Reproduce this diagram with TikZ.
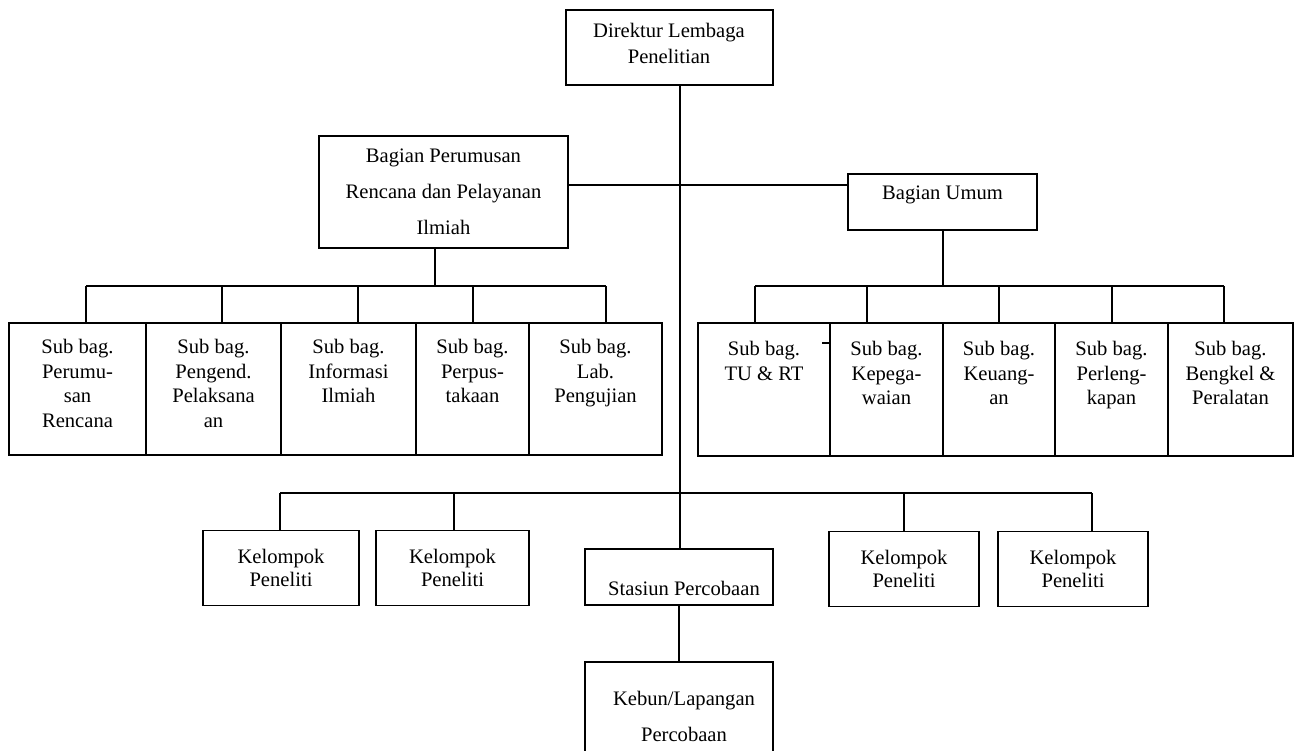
\documentclass[tikz,border=0pt]{standalone}
\usepackage{fontspec}
\setmainfont{Liberation Serif}
\begin{document}
\begin{tikzpicture}[x=1pt,y=-1pt,
  box/.style={draw, line width=1.6pt, rectangle, inner sep=0pt},
  wire/.style={line width=1.6pt},
  txt/.style={align=center, inner sep=0pt, font=\fontsize{20.6}{24.7}\selectfont},
  wide/.style={font=\fontsize{20.6}{36}\selectfont},
]
\useasboundingbox (0,0) rectangle (1295,751);
\fill[white] (0,0) rectangle (1295,751);
\clip (0,0) rectangle (1295,751);

% --- head of the institute
\node[box, minimum width=207pt, minimum height=75pt] (top) at (669.5,47.5) {};
\node[txt, anchor=north, font=\fontsize{20.6}{26}\selectfont] (topT) at (669,23) {Direktur Lembaga\\Penelitian};

% --- the two divisions
\node[box, minimum width=249pt, minimum height=112pt] (bp) at (443.5,192) {};
\node[txt, wide, anchor=north] (bpT) at (443.5,149) {Bagian Perumusan\\Rencana dan Pelayanan\\Ilmiah};

\node[box, minimum width=189pt, minimum height=56pt] (bu) at (942.5,202) {};
\node[txt, anchor=north] (buT) at (942.5,186) {Bagian Umum};

% --- sub-sections of Bagian Perumusan
\node[box, minimum width=137pt, minimum height=132pt] (s1) at (77.5,389) {};
\node[box, minimum width=135pt, minimum height=132pt] (s2) at (213.5,389) {};
\node[box, minimum width=135pt, minimum height=132pt] (s3) at (348.5,389) {};
\node[box, minimum width=113pt, minimum height=132pt] (s4) at (472.5,389) {};
\node[box, minimum width=133pt, minimum height=132pt] (s5) at (595.5,389) {};
\node[txt, anchor=north] (s1T) at (77.5,339) {Sub bag.\\Perumu-\\san\\Rencana};
\node[txt, anchor=north] (s2T) at (213.5,339) {Sub bag.\\Pengend.\\Pelaksana\\an};
\node[txt, anchor=north] (s3T) at (348.5,339) {Sub bag.\\Informasi\\Ilmiah};
\node[txt, anchor=north] (s4T) at (472.5,339) {Sub bag.\\Perpus-\\takaan};
\node[txt, anchor=north] (s5T) at (595.5,339) {Sub bag.\\Lab.\\Pengujian};

% --- sub-sections of Bagian Umum
\node[box, minimum width=132pt, minimum height=133pt] (r1) at (764,389.5) {};
\node[box, minimum width=113pt, minimum height=133pt] (r2) at (886.5,389.5) {};
\node[box, minimum width=112pt, minimum height=133pt] (r3) at (999,389.5) {};
\node[box, minimum width=113pt, minimum height=133pt] (r4) at (1111.5,389.5) {};
\node[box, minimum width=125pt, minimum height=133pt] (r5) at (1230.5,389.5) {};
\node[txt, anchor=north] (r1T) at (764,341) {Sub bag.\\TU \& RT};
\node[txt, anchor=north] (r2T) at (886.5,341) {Sub bag.\\Kepega-\\waian};
\node[txt, anchor=north] (r3T) at (999,341) {Sub bag.\\Keuang-\\an};
\node[txt, anchor=north] (r4T) at (1111.5,341) {Sub bag.\\Perleng-\\kapan};
\node[txt, anchor=north] (r5T) at (1230.5,341) {Sub bag.\\Bengkel \&\\Peralatan};

% --- research groups
\node[box, txt, font=\fontsize{20.6}{23}\selectfont, minimum width=156pt, minimum height=75pt] (k1) at (281,568) {Kelompok\\Peneliti};
\node[box, txt, font=\fontsize{20.6}{23}\selectfont, minimum width=153pt, minimum height=75pt] (k2) at (452.5,568) {Kelompok\\Peneliti};
\node[box, txt, font=\fontsize{20.6}{23}\selectfont, minimum width=150pt, minimum height=75pt] (k3) at (904,569) {Kelompok\\Peneliti};
\node[box, txt, font=\fontsize{20.6}{23}\selectfont, minimum width=150pt, minimum height=75pt] (k4) at (1073,569) {Kelompok\\Peneliti};

% --- experimental station and field
\node[box, minimum width=188pt, minimum height=56pt] (stas) at (679,577) {};
\node[txt, anchor=base] (stasT) at (684,595) {Stasiun Percobaan};
\node[box, minimum width=188pt, minimum height=120pt] (keb) at (679,722) {};
\node[txt, wide, anchor=north] (kebT) at (684,691) {Kebun/Lapangan\\Percobaan};

% --- connectors
\coordinate (hj) at (680,185);
\draw[wire] (top.south -| hj) -- (stas.north -| hj);
\draw[wire] (bp.east |- hj) -- (bu.west |- hj);

\coordinate (lj) at (435,286);
\coordinate (la) at (86,286);
\coordinate (lb) at (222,286);
\coordinate (lc) at (358,286);
\coordinate (ld) at (473,286);
\coordinate (le) at (606,286);
\draw[wire] (bp.south -| lj) -- (lj);
\draw[wire] (la) -- (le);
\foreach \c/\n in {la/s1, lb/s2, lc/s3, ld/s4, le/s5}
  \draw[wire] (\c) -- (\c |- \n.north);

\coordinate (rj) at (943,286);
\coordinate (ra) at (755,286);
\coordinate (rb) at (867,286);
\coordinate (rc) at (999,286);
\coordinate (rd) at (1112,286);
\coordinate (re) at (1224,286);
\draw[wire] (bu.south -| rj) -- (rj);
\draw[wire] (ra) -- (re);
\foreach \c/\n in {ra/r1, rb/r2, rc/r3, rd/r4, re/r5}
  \draw[wire] (\c) -- (\c |- \n.north);

\coordinate (ka) at (280,493);
\coordinate (kb) at (454,493);
\coordinate (kc) at (904,493);
\coordinate (kd) at (1092,493);
\draw[wire] (ka) -- (kd);
\foreach \c/\n in {ka/k1, kb/k2, kc/k3, kd/k4}
  \draw[wire] (\c) -- (\c |- \n.north);

\draw[wire] (stas.south) -- (keb.north);

% small stroke on the edge of Kepegawaian
\draw[line width=1.2pt] ([xshift=-7pt]r2.north west |- 0,343) -- (r2.north west |- 0,343);
\end{tikzpicture}
\end{document}
